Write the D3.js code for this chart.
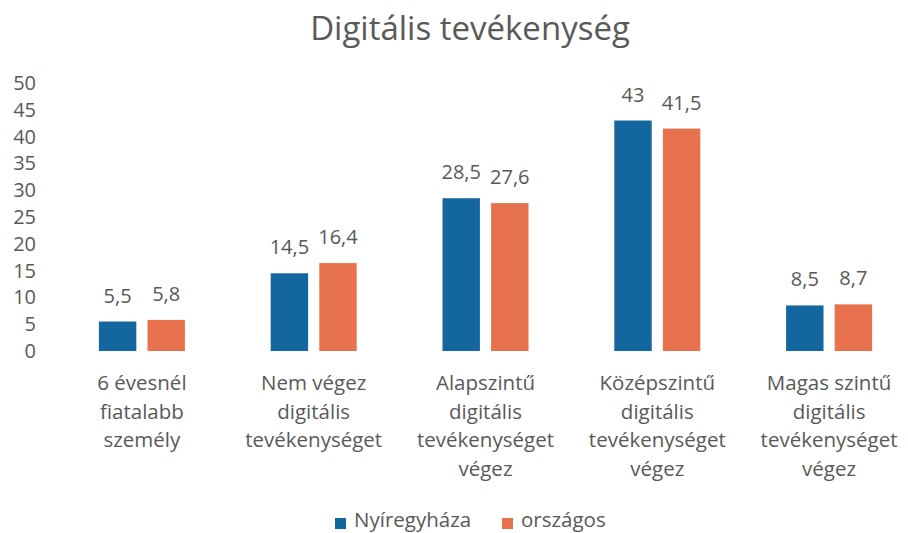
<!DOCTYPE html>
<html>
<head>
<meta charset="utf-8">
<script src="https://cdn.jsdelivr.net/npm/d3@7"></script>
<style>
  body { margin: 0; background: #fff; }
  svg { display: block; font-family: "Open Sans", sans-serif; }
</style>
</head>
<body>
<div id="chart"></div>
<script>
const categories = [
  ["6 évesnél", "fiatalabb", "személy"],
  ["Nem végez", "digitális", "tevékenységet"],
  ["Alapszintű", "digitális", "tevékenységet", "végez"],
  ["Középszintű", "digitális", "tevékenységet", "végez"],
  ["Magas szintű", "digitális", "tevékenységet", "végez"]
];
const seriesNames = ["Nyíregyháza", "országos"];
const nyiregyhaza = [5.5, 14.5, 28.5, 43, 8.5];
const orszagos = [5.8, 16.4, 27.6, 41.5, 8.7];
const yTicks = [0, 5, 10, 15, 20, 25, 30, 35, 40, 45, 50];
const colors = ["#13679e", "#e8714e"];

let params = {
  width: 908,
  height: 533,
  margin: { left: 56, right: -7, top: 83, bottom: 182 }
};

let svg = d3.select("#chart").append("svg")
  .attr("width", params.width)
  .attr("height", params.height);

let grey = "#595959";

let scaleY = d3.scaleLinear()
  .domain([0, 50])
  .range([params.height - params.margin.bottom, params.margin.top]);

let scaleX = d3.scaleBand()
  .domain(d3.range(categories.length))
  .range([params.margin.left, params.width - params.margin.right])
  .padding(0);

// inner band for the two series, bars ~38px with ~10px gap
let scaleSeries = d3.scaleBand()
  .domain(d3.range(seriesNames.length))
  .range([scaleX.bandwidth() / 2 - 43, scaleX.bandwidth() / 2 + 43])
  .paddingInner(0.23)
  .paddingOuter(0);

svg.append("text")
  .text("Digitális tevékenység")
  .attr("x", 470)
  .attr("y", 40)
  .attr("text-anchor", "middle")
  .style("font-size", "33px")
  .style("fill", grey);

let axisLeft = d3.axisLeft(scaleY)
  .tickValues(yTicks)
  .tickSize(0)
  .tickPadding(0);

svg.append("g")
  .attr("class", "axisLeft")
  .attr("transform", "translate(36,0)")
  .call(axisLeft)
  .call(g => g.select(".domain").remove())
  .selectAll("text")
  .style("font-size", "20px")
  .style("font-family", "'Open Sans', sans-serif")
  .style("fill", grey);

let data = categories.map((c, i) => ({ i: i, values: [nyiregyhaza[i], orszagos[i]] }));

let groups = svg.append("g")
  .selectAll(".group")
  .data(data)
  .enter()
  .append("g")
  .attr("class", "group")
  .attr("transform", d => "translate(" + scaleX(d.i) + ",0)");

groups.selectAll("rect")
  .data(d => d.values)
  .enter()
  .append("rect")
  .attr("x", (d, j) => scaleSeries(j))
  .attr("width", scaleSeries.bandwidth())
  .attr("y", d => scaleY(d))
  .attr("height", d => scaleY(0) - scaleY(d))
  .style("fill", (d, j) => colors[j]);

groups.selectAll(".val")
  .data(d => d.values)
  .enter()
  .append("text")
  .attr("class", "val")
  .text(d => String(d).replace(".", ","))
  .attr("x", (d, j) => scaleSeries(j) + scaleSeries.bandwidth() / 2)
  .attr("y", d => scaleY(d) - 19)
  .attr("text-anchor", "middle")
  .style("font-size", "20px")
  .style("fill", grey);

groups.append("text")
  .attr("text-anchor", "middle")
  .style("font-size", "20.5px")
  .style("fill", grey)
  .selectAll("tspan")
  .data(d => categories[d.i])
  .enter()
  .append("tspan")
  .attr("x", scaleX.bandwidth() / 2)
  .attr("y", (d, k) => 390 + k * 28.5)
  .text(d => d);

// legend, sits at the very bottom edge
let legend = svg.append("g").attr("class", "legend");
let legendX = [335, 502];
seriesNames.forEach((name, j) => {
  legend.append("rect")
    .attr("x", legendX[j])
    .attr("y", 518)
    .attr("width", 11)
    .attr("height", 11)
    .style("fill", colors[j]);
  legend.append("text")
    .text(name)
    .attr("x", legendX[j] + 19)
    .attr("y", 527)
    .style("font-size", "20.5px")
    .style("fill", grey);
});
</script>
</body>
</html>
